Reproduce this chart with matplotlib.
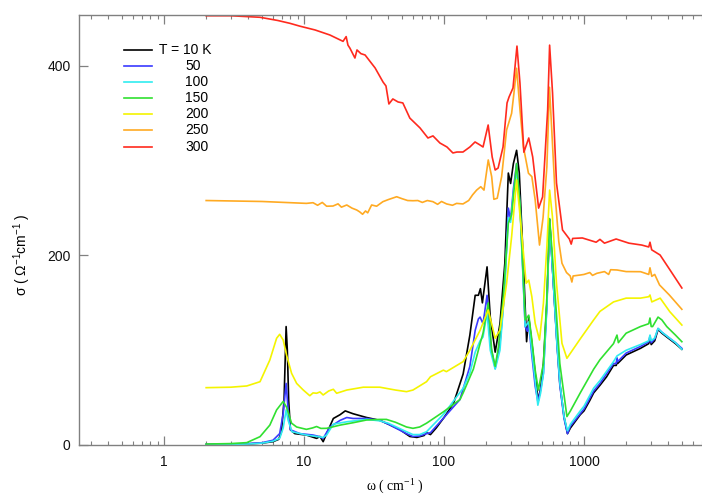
import matplotlib
matplotlib.use("Agg")
import matplotlib.pyplot as plt
from matplotlib.lines import Line2D
from matplotlib.ticker import LogLocator, NullFormatter, FixedLocator

# ---------------- data (omega in cm^-1, sigma in Ohm^-1 cm^-1) ----------------
w_10 = [2, 3, 4, 5, 6, 6.6, 6.9, 7.2, 7.45, 7.6, 7.77, 8.0, 8.6, 10.4, 12.3, 13, 13.7, 14.5,
        16.2, 18.1, 19.7, 22.4, 28, 34.8, 40, 48.6, 57, 64, 72, 75, 80, 88, 100, 117, 137,
        153, 167, 176, 182, 188, 203, 214, 232, 251, 272, 288, 299, 313, 330, 345, 369, 389,
        403, 430, 461, 472, 490, 513, 543, 568, 600, 640, 672, 720, 762, 800, 940, 1000, 1100,
        1172, 1300, 1450, 1625, 1700, 1720, 1740, 2000, 2530, 2900, 2960, 3020, 3200, 3380,
        3600, 3900, 4500, 5000]
s_10 = [0.5, 0.8, 1.2, 2, 3.5, 6, 14, 47, 125, 100, 47, 16, 12, 10.5, 7, 9, 3.5, 12,
        28, 32, 36, 33, 29, 26, 22, 16, 9, 8, 10, 13, 11, 18, 29, 44, 75,
        116, 158, 158, 165, 150, 188, 135, 98, 128, 192, 287, 276, 297, 311, 287, 192, 109,
        135, 100, 58, 47, 60, 86, 150, 238, 178, 110, 65, 30, 12, 18, 32, 36, 47,
        55, 63, 72, 84, 84, 90, 86, 95, 102, 107, 113, 106, 110, 122,
        118, 114, 107, 101]

w_50 = [2, 3, 4, 5, 6, 6.7, 7.1, 7.45, 7.7, 8.0, 9.35, 11.6, 12.8, 13.7, 15.3, 18.1, 20.2,
        22.4, 28, 34.8, 40, 54, 60, 67, 75, 80, 100, 130, 153, 167, 176, 181, 190, 203, 214,
        232, 251, 270, 288, 299, 313, 330, 349, 380, 394, 403, 424, 448, 468, 490, 513, 543,
        568, 600, 640, 672, 720, 762, 800, 940, 1000, 1172, 1300, 1625, 1700, 1720, 1740,
        2000, 2530, 2900, 2960, 3020, 3200, 3380, 3600, 3900, 4500, 5000]
s_50 = [0.5, 0.8, 1.5, 2.4, 5, 12, 33, 65, 37, 16, 12, 10.5, 9, 7, 19, 26, 29,
        28, 28, 26, 22, 12, 9, 9.5, 12, 13, 29, 48, 83, 121, 133, 135, 128, 158, 107,
        81, 107, 160, 250, 238, 270, 297, 255, 125, 120, 128, 95, 62, 46, 58, 76, 148,
        238, 178, 108, 63, 28, 12, 20, 33, 38, 57, 65, 86, 86, 92, 88,
        97, 104, 109, 115, 108, 112, 123, 119, 115, 108, 102]

w_100 = [2, 3, 4, 5, 6, 6.7, 7.1, 7.45, 7.7, 8.2, 10.4, 12.3, 13.7, 14.5, 16.2, 20.2, 28,
         34.8, 40, 54, 60, 67, 75, 100, 137, 153, 167, 181, 190, 203, 214, 232, 251, 270,
         288, 299, 313, 330, 349, 380, 403, 424, 448, 468, 490, 513, 543, 568, 600, 640, 672,
         720, 762, 800, 940, 1000, 1172, 1300, 1625, 1720, 2000, 2530, 2900, 2960, 3020,
         3200, 3380, 3600, 3900, 4500, 5000]
s_100 = [0.3, 0.6, 1, 2, 4, 7, 18, 37, 26, 14, 10.5, 9, 8, 10.5, 22, 24.5, 27,
         25.5, 23, 14, 11, 11, 14, 33, 60, 76, 98, 110, 114, 140, 100, 80, 100, 160,
         240, 235, 265, 290, 250, 125, 130, 100, 68, 42, 55, 75, 145, 236, 178, 108, 66,
         30, 15, 22, 36, 41, 60, 68, 88, 94, 100, 106, 110, 116, 110,
         113, 123, 119, 115, 108, 101]

w_150 = [2, 3, 3.9, 4.85, 5.7, 6.37, 7.1, 7.5, 8.15, 8.86, 10.4, 11.5, 12.3, 13.2, 14.5,
         18.1, 22.4, 28, 34.8, 38.8, 45, 54, 60, 67, 75, 99, 130, 137, 162, 181, 190, 207,
         219, 232, 245, 265, 288, 304, 330, 349, 380, 403, 424, 448, 472, 513, 543, 568, 600,
         672, 755, 800, 940, 1000, 1172, 1300, 1625, 1720, 1760, 2000, 2530, 2900, 2960,
         3020, 3090, 3380, 3600, 3900, 4500, 5000]
s_150 = [1, 1.5, 2.5, 8.8, 21, 37, 46, 40, 23, 19, 16.5, 18, 19.5, 17.5, 17.6,
         21, 23.5, 26.4, 27, 27, 24, 19, 17.6, 19, 23, 35, 48, 55, 80, 107, 118, 150,
         100, 83, 104, 156, 234, 243, 297, 255, 132, 137, 111, 79, 58, 86, 156, 239, 192,
         86, 30, 36, 55, 62, 80, 90, 107, 116, 108, 118, 125, 128, 134,
         125, 125, 135, 132, 125, 116, 109]

w_200 = [2, 3, 3.9, 4.85, 5.7, 6.37, 6.7, 7.1, 7.5, 8.15, 8.86, 9.88, 11, 11.6, 12.3, 13,
         13.7, 15, 16.2, 17.1, 20.2, 26.5, 34.8, 45, 54, 60, 75, 80, 99, 104, 137, 153, 181,
         207, 232, 251, 280, 304, 330, 357, 386, 403, 424, 448, 481, 513, 543, 568, 595, 636,
         696, 755, 940, 1172, 1300, 1625, 2000, 2530, 2900, 2960, 3050, 3500, 4100, 5000]
s_200 = [60.5, 61, 62.3, 66.8, 89.7, 112.6, 116.8, 110.8, 95, 75.7, 65, 58, 52, 55, 54.6, 56,
         52.8, 57, 58.8, 54.6, 58, 61, 61, 58, 56.3, 58, 66.8, 72, 79, 77.4, 88, 100, 121,
         142.5, 112.6, 121.4, 170.7, 219.8, 279.7, 227, 170.7, 174, 156.5, 128.4, 110.8,
         149.6, 209.3, 269, 241, 170.7, 107.3, 91.5, 112, 132, 141, 151, 155, 155, 156.5,
         158.3, 151, 155, 140.7, 126.6]

w_250 = [2, 5, 10.4, 11.6, 12.5, 13.5, 14.5, 16.1, 17.5, 18.5, 20.2, 22, 23.8, 25, 26.2, 27.5,
         28.5, 30.4, 33, 36.6, 40, 45.9, 50, 55, 60, 65, 70, 76, 83.3, 90, 96, 104.4, 115,
         123, 136.6, 150, 160, 171, 183, 193, 207, 219, 227, 240, 258, 280, 304, 316, 330,
         349, 369, 401, 424, 448, 481, 510, 543, 567, 590, 623, 660, 696, 750, 797, 819, 836,
         940, 1000, 1100, 1150, 1236, 1400, 1500, 1550, 1722, 2000, 2535, 2900, 2960, 3050,
         3200, 3464, 4070, 5000]
s_250 = [258, 257, 255, 255.7, 253, 256, 252, 252.2, 254.5, 251, 253.3, 250, 248, 246, 243.5,
         247, 245, 253.3, 252, 256.8, 259, 262, 260, 258, 257.8, 258, 256, 258, 256.8, 254,
         257, 254.4, 253, 255, 254.4, 258, 264, 269, 272.6, 269, 300.8, 283.2, 259.3, 260.4,
         283.2, 332.5, 350, 371.5, 397.6, 353.6, 314.8, 286.8, 283.2, 258.6, 211, 240, 293.7,
         377.5, 329, 262, 215, 191.8, 182, 178.4, 172, 178.4, 179.4, 180, 182, 179, 181.2,
         183, 180, 185, 184.7, 183, 182.9, 180, 187, 178, 180, 168.9, 158.3, 143.2]

w_300 = [2, 3, 4.85, 6.5, 7.94, 9.35, 12, 15.3, 19, 20, 20.6, 21.3, 23.1, 23.9, 25.5, 27.3,
         32.2, 36.7, 38.5, 40.4, 43.1, 47, 50.8, 57, 67.4, 76.8, 83.4, 93.5, 105, 115.7,
         123.7, 136.6, 153, 166.6, 180.9, 190, 206.7, 220.8, 232, 243.5, 264, 282, 291.5,
         311, 332, 348.7, 372, 403, 430, 474, 506, 550, 568, 596, 636, 702, 786, 810, 830,
         973, 1221, 1300, 1400, 1696, 2094, 2586, 2900, 2960, 3044, 3495, 4115, 5000]
s_300 = [453, 453, 451.4, 448, 445, 442, 438, 432.7, 426, 431, 422, 418.7, 408.4, 416.9, 413,
         411.6, 397.9, 383, 378.9, 359.9, 365.2, 362, 361, 345, 334.6, 324, 326.2, 318.7,
         314.5, 308.2, 309.2, 309.2, 314.5, 319.8, 316.6, 314.5, 337.7, 304, 290.2, 292.3,
         314.5, 361, 367.3, 376.8, 421, 382, 309, 324, 304, 250, 261.8, 353.6, 422, 371.5,
         276.5, 227, 217.4, 212, 218, 218.5, 214, 217, 213, 217.4, 213, 211, 209, 214, 206,
         200.5, 184.7, 165.7]

labels = ["T = 10 K", "50", "100", "150", "200", "250", "300"]
colors = ["#000000", "#3a3aff", "#30ecf0", "#30e030", "#f4f400", "#ffaa22", "#ff2a1e"]
series = [(w_10, s_10), (w_50, s_50), (w_100, s_100), (w_150, s_150),
          (w_200, s_200), (w_250, s_250), (w_300, s_300)]

# ---------------- figure ----------------
W, H = 702, 495
fig = plt.figure(figsize=(W / 100, H / 100), dpi=100)
ax_l, ax_r, ax_t, ax_b = 79, 710, 15, 445
ax = fig.add_axes([ax_l / W, 1 - ax_b / H, (ax_r - ax_l) / W, (ax_b - ax_t) / H])

for (w, s), c in zip(series, colors):
    ax.plot(w, s, color=c, lw=1.2, solid_joinstyle="round")

ax.set_xscale("log")
ax.set_xlim(0.247, 7943)
ax.set_ylim(0, 453.8)

gray = "#808080"
for side in ["left", "bottom", "top"]:
    ax.spines[side].set_color(gray)
    ax.spines[side].set_linewidth(1.0)
ax.spines["right"].set_visible(False)

ax.xaxis.set_major_locator(FixedLocator([1, 10, 100, 1000]))
ax.xaxis.set_minor_locator(LogLocator(base=10, subs=range(2, 10), numticks=20))
ax.xaxis.set_minor_formatter(NullFormatter())
ax.set_xticklabels(["1", "10", "100", "1000"])
ax.set_yticks([0, 200, 400])
ax.tick_params(axis="x", which="major", direction="in", length=6.5, width=0.9,
               color=gray, top=True, pad=7)
ax.tick_params(axis="x", which="minor", direction="in", length=3, width=0.8,
               color=gray, top=True)
ax.tick_params(axis="y", which="major", direction="in", length=6.5, width=0.9,
               color=gray, right=False, pad=6)
for lab in ax.get_xticklabels() + ax.get_yticklabels():
    lab.set_fontfamily("Liberation Sans")
    lab.set_fontsize(10)
    lab.set_color("#111111")

# axis labels
fig.text(395 / W, 1 - 486 / H, r"ω ( cm$^{\mathregular{-1}}$ )", family="Liberation Serif",
         fontsize=10, ha="center", va="center")
fig.text(22 / W, 1 - 255 / H, r"σ ( Ω$^{\mathregular{-1}}$cm$^{\mathregular{-1}}$ )",
         family="Liberation Sans", fontsize=10, ha="center", va="center", rotation=90)

# legend (manual)
rows = [50, 65.7, 81.7, 97.7, 114, 130, 146.7]
for lab, c, yp in zip(labels, colors, rows):
    fig.add_artist(Line2D([124 / W, 152 / W], [1 - yp / H, 1 - yp / H], color=c, lw=1.2))
    xt = 159 if lab.startswith("T") else 185
    fig.text(xt / W, 1 - yp / H, lab, family="Liberation Sans", fontsize=10,
             ha="left", va="center")

fig.savefig("out.png", dpi=100)
